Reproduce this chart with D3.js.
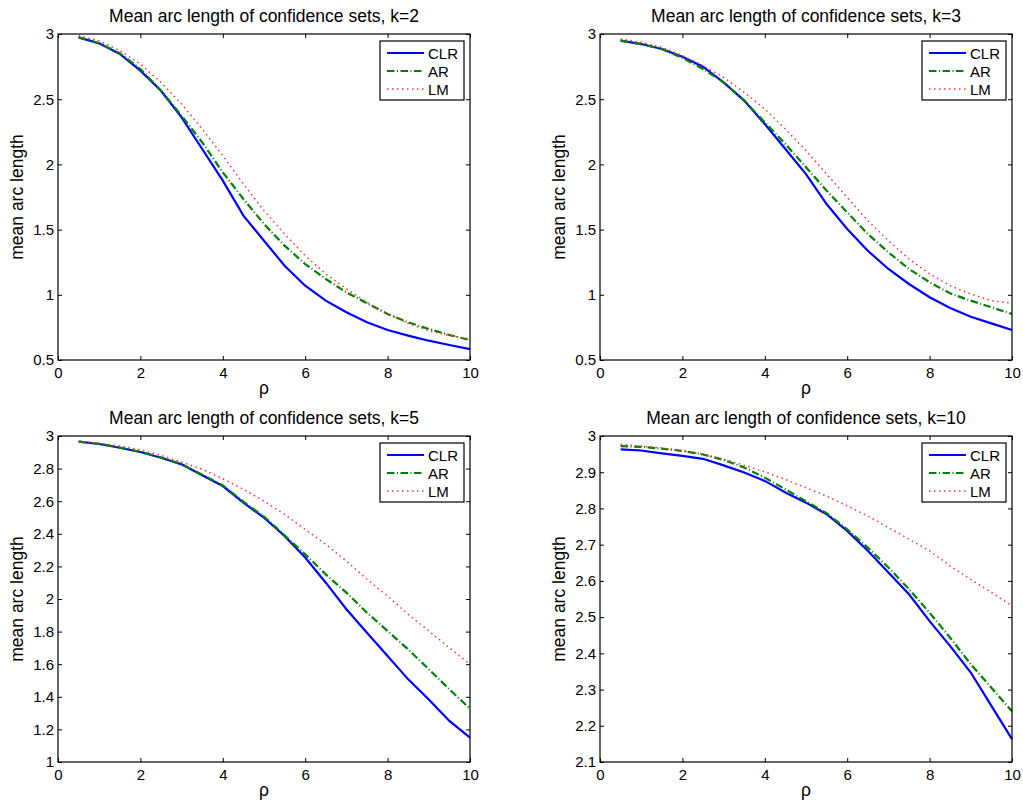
<!DOCTYPE html>
<html>
<head>
<meta charset="utf-8">
<script src="https://cdn.jsdelivr.net/npm/d3@7"></script>
<style>
  html, body { margin: 0; padding: 0; background: #fff; }
  svg { display: block; font-family: "Liberation Sans", Arial, Helvetica, sans-serif; }
  .tick text { fill: #000; }
</style>
</head>
<body>
<svg id="chart" width="1023" height="806"></svg>
<script>
// ---- data ----
const rho = [0.5, 1, 1.5, 2, 2.5, 3, 3.5, 4, 4.5, 5, 5.5, 6, 6.5, 7, 7.5, 8, 8.5, 9, 9.5, 10];

const clrK2 = [2.974, 2.928, 2.847, 2.719, 2.565, 2.361, 2.118, 1.875, 1.607, 1.415, 1.223, 1.07, 0.955, 0.866, 0.789, 0.73, 0.687, 0.648, 0.615, 0.584];
const arK2  = [2.974, 2.928, 2.852, 2.732, 2.565, 2.374, 2.169, 1.939, 1.735, 1.543, 1.377, 1.236, 1.121, 1.019, 0.935, 0.853, 0.789, 0.738, 0.692, 0.653];
const lmK2  = [2.987, 2.949, 2.872, 2.77, 2.629, 2.463, 2.271, 2.067, 1.85, 1.645, 1.466, 1.30, 1.16, 1.045, 0.942, 0.853, 0.781, 0.725, 0.687, 0.661];

const clrK3 = [2.949, 2.923, 2.885, 2.826, 2.749, 2.629, 2.489, 2.31, 2.118, 1.926, 1.696, 1.505, 1.338, 1.198, 1.083, 0.981, 0.899, 0.832, 0.781, 0.73];
const arK3  = [2.949, 2.923, 2.885, 2.816, 2.732, 2.629, 2.489, 2.323, 2.156, 1.978, 1.799, 1.632, 1.466, 1.326, 1.198, 1.096, 1.011, 0.955, 0.904, 0.853];
const lmK3  = [2.962, 2.936, 2.898, 2.834, 2.757, 2.668, 2.553, 2.425, 2.271, 2.105, 1.926, 1.747, 1.569, 1.415, 1.275, 1.16, 1.07, 1.006, 0.955, 0.935];

const clrK5 = [2.965, 2.951, 2.928, 2.902, 2.867, 2.826, 2.759, 2.693, 2.591, 2.499, 2.387, 2.254, 2.10, 1.937, 1.793, 1.65, 1.507, 1.384, 1.252, 1.149];
const arK5  = [2.966, 2.952, 2.929, 2.903, 2.868, 2.827, 2.762, 2.697, 2.597, 2.506, 2.39, 2.274, 2.151, 2.039, 1.916, 1.804, 1.691, 1.569, 1.446, 1.327];
const lmK5  = [2.965, 2.955, 2.939, 2.914, 2.881, 2.84, 2.796, 2.738, 2.673, 2.601, 2.519, 2.427, 2.335, 2.233, 2.121, 2.018, 1.906, 1.804, 1.701, 1.599];

const clrK10 = [2.963, 2.96, 2.952, 2.945, 2.937, 2.919, 2.899, 2.876, 2.844, 2.816, 2.784, 2.738, 2.683, 2.623, 2.563, 2.489, 2.42, 2.347, 2.255, 2.163];
const arK10  = [2.972, 2.97, 2.965, 2.959, 2.949, 2.934, 2.913, 2.885, 2.853, 2.82, 2.787, 2.742, 2.692, 2.637, 2.577, 2.512, 2.443, 2.37, 2.305, 2.24];
const lmK10  = [2.977, 2.972, 2.967, 2.959, 2.949, 2.936, 2.919, 2.901, 2.88, 2.857, 2.834, 2.807, 2.779, 2.747, 2.715, 2.683, 2.641, 2.604, 2.568, 2.531];

const xTicks = [0, 2, 4, 6, 8, 10];
const yTicksA = [0.5, 1, 1.5, 2, 2.5, 3];
const yTicksK5 = [1, 1.2, 1.4, 1.6, 1.8, 2, 2.2, 2.4, 2.6, 2.8, 3];
const yTicksK10 = [2.1, 2.2, 2.3, 2.4, 2.5, 2.6, 2.7, 2.8, 2.9, 3];

const seriesNames = ["CLR", "AR", "LM"];
const titles = [
  "Mean arc length of confidence sets, k=2",
  "Mean arc length of confidence sets, k=3",
  "Mean arc length of confidence sets, k=5",
  "Mean arc length of confidence sets, k=10"
];
const xLabel = "\u03C1";
const yLabel = "mean arc length";

// ---- styles ----
const styles = [
  { color: "#0000ff", width: 2.2, dash: null },
  { color: "#008000", width: 2.2, dash: "7.5,2.5,1,2.5" },
  { color: "#ff3030", width: 1.5, dash: "1.5,3.5" }
];

const panels = [
  { title: titles[0], series: [clrK2, arK2, lmK2], yDomain: [0.5, 3], yTicks: yTicksA, left: 58, top: 34 },
  { title: titles[1], series: [clrK3, arK3, lmK3], yDomain: [0.5, 3], yTicks: yTicksA, left: 600, top: 34 },
  { title: titles[2], series: [clrK5, arK5, lmK5], yDomain: [1, 3], yTicks: yTicksK5, left: 58, top: 436 },
  { title: titles[3], series: [clrK10, arK10, lmK10], yDomain: [2.1, 3], yTicks: yTicksK10, left: 600, top: 436 }
];
const W = 412, H = 326;

const svg = d3.select("#chart");
const fmt = v => String(+v.toFixed(2));

panels.forEach(p => {
  const g = svg.append("g").attr("transform", `translate(${p.left},${p.top})`);
  const x = d3.scaleLinear().domain([0, 10]).range([0, W]);
  const y = d3.scaleLinear().domain(p.yDomain).range([H, 0]);

  // axes (ticks inside)
  const ax = g.append("g").attr("transform", `translate(0,${H})`)
    .call(d3.axisBottom(x).tickValues(xTicks).tickFormat(fmt).tickSize(-4).tickPadding(7));
  const axT = g.append("g")
    .call(d3.axisTop(x).tickValues(xTicks).tickFormat("").tickSize(-4));
  const ay = g.append("g")
    .call(d3.axisLeft(y).tickValues(p.yTicks).tickFormat(fmt).tickSize(-4).tickPadding(4));
  const ayR = g.append("g").attr("transform", `translate(${W},0)`)
    .call(d3.axisRight(y).tickValues(p.yTicks).tickFormat("").tickSize(-4));
  [ax, axT, ay, ayR].forEach(a => {
    a.select(".domain").remove();
    a.selectAll(".tick line").attr("stroke", "#000").attr("stroke-width", 1);
    a.selectAll(".tick text").style("font-size", "15px")
      .style("font-family", '"Liberation Sans", Arial, sans-serif');
  });

  // lines
  const line = d3.line().x((d, i) => x(rho[i])).y(d => y(d));
  p.series.forEach((s, i) => {
    const st = styles[i];
    g.append("path").datum(s)
      .attr("d", line)
      .attr("fill", "none")
      .attr("stroke", st.color)
      .attr("stroke-width", st.width)
      .attr("stroke-dasharray", st.dash);
  });

  // frame
  g.append("rect").attr("x", 0).attr("y", 0).attr("width", W).attr("height", H)
    .attr("fill", "none").attr("stroke", "#000").attr("stroke-width", 1.2);

  // title
  g.append("text").attr("x", W / 2).attr("y", -12)
    .attr("text-anchor", "middle").style("font-size", "17.5px").text(p.title);
  // x label
  g.append("text").attr("x", W / 2).attr("y", H + 34)
    .attr("text-anchor", "middle").style("font-size", "17.5px").text(xLabel);
  // y label
  g.append("text").attr("transform", `translate(-35,${H / 2}) rotate(-90)`)
    .attr("text-anchor", "middle").style("font-size", "17.5px").text(yLabel);

  // legend
  const lg = g.append("g").attr("transform", `translate(${W - 90},7)`);
  lg.append("rect").attr("width", 84).attr("height", 59)
    .attr("fill", "#fff").attr("stroke", "#000").attr("stroke-width", 1.2);
  seriesNames.forEach((name, i) => {
    const st = styles[i];
    const yy = 12 + i * 18;
    lg.append("line").attr("x1", 7).attr("x2", 44).attr("y1", yy).attr("y2", yy)
      .attr("stroke", st.color).attr("stroke-width", st.width)
      .attr("stroke-dasharray", st.dash);
    lg.append("text").attr("x", 48).attr("y", yy + 5.5)
      .style("font-size", "15px").text(name);
  });
});
</script>
</body>
</html>
